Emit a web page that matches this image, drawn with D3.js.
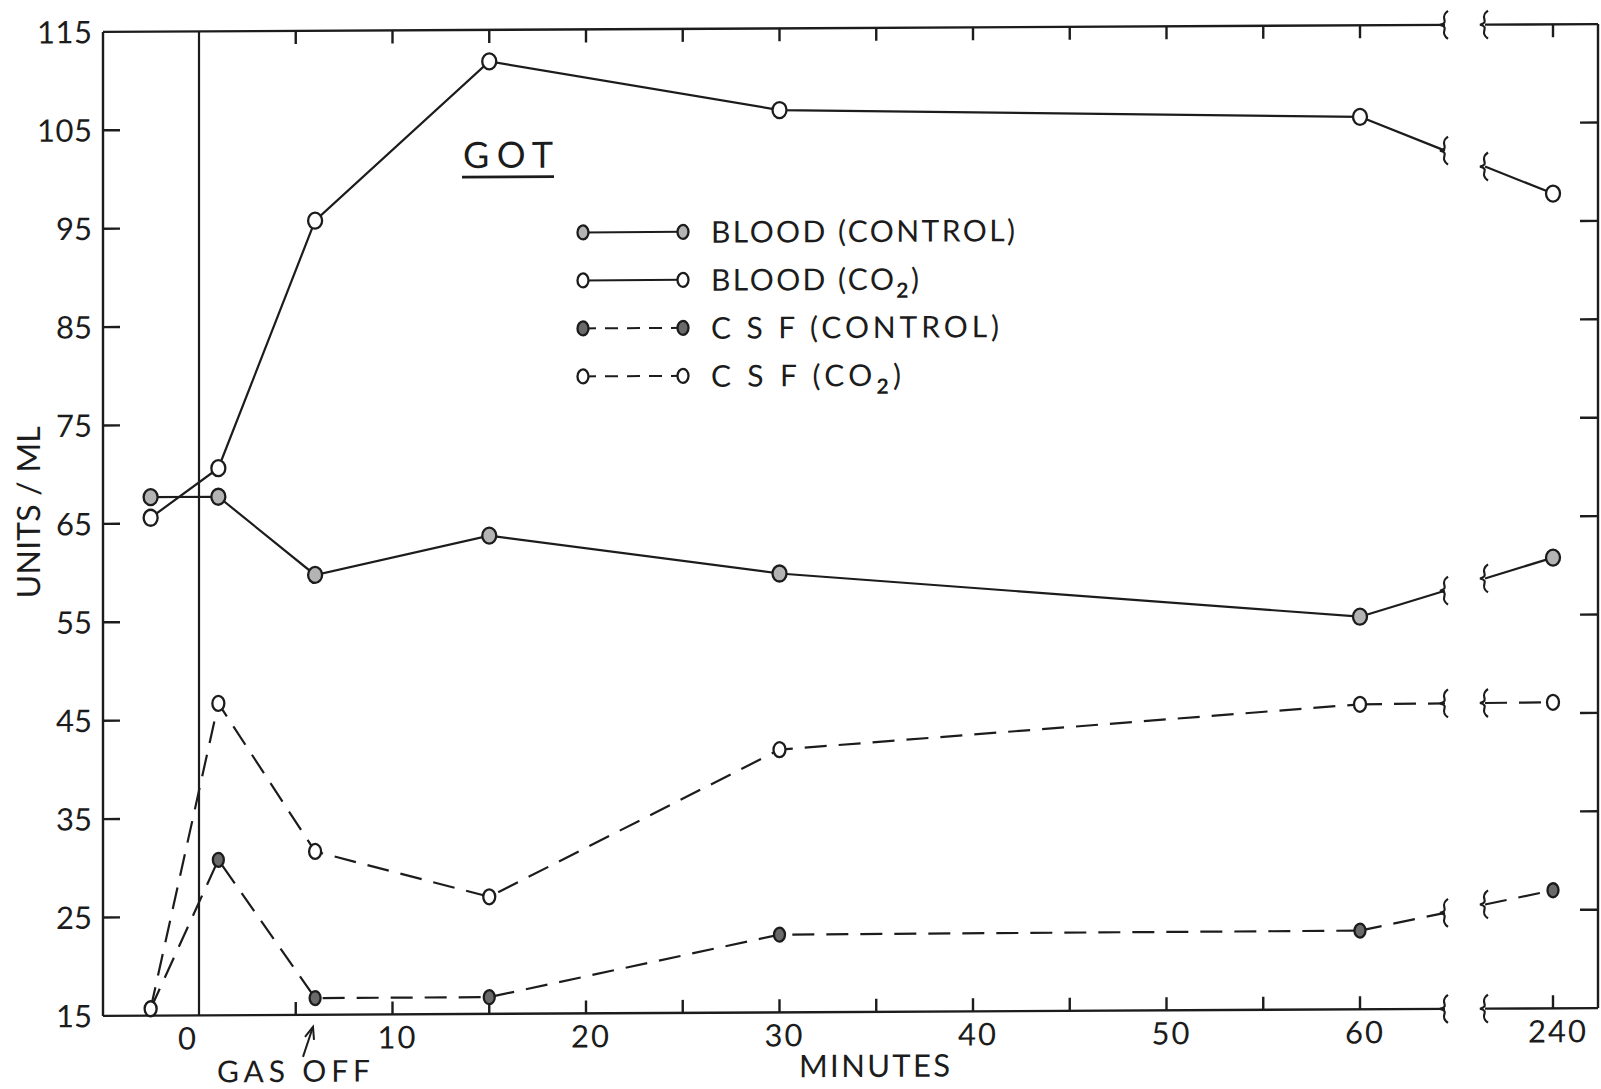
<!DOCTYPE html>
<html>
  <head>
    <meta charset="utf-8">
    <title>GOT - units/ml vs minutes</title>
    <script src="https://cdn.jsdelivr.net/npm/d3@7"></script>
    <style>
      body { margin: 0; background: #fff; }
      text { font-family: Lato, "Open Sans", "DejaVu Sans", sans-serif; font-weight: 400; fill: #1c1c1c; }
    </style>
  </head>
  <body>
    <div id="chart"></div>

    <script>
      // data (minutes after start; 240 sits past the axis break)
      const times = [-2.5, 1, 6, 15, 30, 60, 240];
      const bloodControl = [67.7, 67.7, 59.7, 63.6, 59.6, 54.9, 60.8];
      const bloodCO2 = [65.6, 70.6, 95.7, 111.8, 106.7, 105.7, 97.8];
      const csfControl = [15.7, 30.8, 16.7, 16.7, 22.9, 23.0, 27.0];
      const csfCO2 = [15.7, 46.7, 31.6, 26.9, 41.7, 46.0, 46.1];

      const yTickLabels = [115, 105, 95, 85, 75, 65, 55, 45, 35, 25, 15];
      const xTickLabels = [0, 10, 20, 30, 40, 50, 60, 240];
      const legendLabels = ['BLOOD (CONTROL)', 'BLOOD (CO|2|)', 'C S F (CONTROL)', 'C S F (CO|2|)'];

      const W = 1601, H = 1089;
      const ink = '#1c1c1c';
      const pLeft = 103, pRight = 1598, pTop = 28, pBottom = 1012;
      const breakL = 1445, breakR = 1485;

      const svg = d3.select('#chart').append('svg')
        .attr('width', W).attr('height', H)
        .style('background', '#fff');

      // the scan runs slightly uphill to the right
      const g = svg.append('g').attr('transform', 'translate(0,4.45) skewY(-0.3)');

      const x = d3.scaleLinear().domain([0, 60, 240]).range([199, 1360, 1553]);
      const y = d3.scaleLinear().domain([15, 115]).range([pBottom, pTop]);

      // squiggly break mark
      function squiggle(cx, cy, h) {
        const s = h / 2;
        return `M${cx + 3},${cy - s} C${cx - 7},${cy - s / 2} ${cx + 6},${cy - s / 5} ${cx - 5},${cy}
                C${cx + 6},${cy + s / 5} ${cx - 7},${cy + s / 2} ${cx + 3},${cy + s}`;
      }

      // spread letters so the text fills a given width
      function fit(sel, w) {
        const node = sel.node();
        const n = node.getNumberOfChars();
        const cur = node.getComputedTextLength();
        if (n > 1) sel.attr('letter-spacing', (w - cur) / (n - 1));
      }

      // frame
      const axis = g.append('g').attr('stroke', ink).attr('stroke-width', 2.4).attr('fill', 'none');
      axis.append('line').attr('x1', pLeft).attr('x2', pLeft).attr('y1', pTop).attr('y2', pBottom);
      axis.append('line').attr('x1', pRight).attr('x2', pRight).attr('y1', pTop).attr('y2', pBottom);
      [pTop, pBottom].forEach(yy => {
        axis.append('line').attr('x1', pLeft).attr('x2', breakL).attr('y1', yy).attr('y2', yy);
        axis.append('line').attr('x1', breakR).attr('x2', pRight).attr('y1', yy).attr('y2', yy);
        axis.append('path').attr('d', squiggle(breakL, yy, 28)).attr('stroke-width', 2.2);
        axis.append('path').attr('d', squiggle(breakR, yy, 28)).attr('stroke-width', 2.2);
      });
      axis.append('line').attr('x1', x(0)).attr('x2', x(0)).attr('y1', pTop).attr('y2', pBottom).attr('stroke-width', 2.2);

      // ticks
      const xTicks = d3.range(5, 61, 5).concat([240]);
      axis.selectAll('.tt').data(xTicks).enter().append('line')
        .attr('x1', d => x(d)).attr('x2', d => x(d)).attr('y1', pTop).attr('y2', pTop + 13);
      axis.selectAll('.tb').data(xTicks).enter().append('line')
        .attr('x1', d => x(d)).attr('x2', d => x(d)).attr('y1', pBottom).attr('y2', pBottom - 13);
      const yTicks = yTickLabels.filter(v => v > 15 && v < 115);
      axis.selectAll('.tl').data(yTicks).enter().append('line')
        .attr('x1', pLeft).attr('x2', pLeft + 17).attr('y1', d => y(d)).attr('y2', d => y(d));
      axis.selectAll('.tr').data(yTicks).enter().append('line')
        .attr('x1', pRight).attr('x2', pRight - 18).attr('y1', d => y(d)).attr('y2', d => y(d));

      // tick labels
      yTickLabels.forEach(v => {
        const w = String(v).length * 19 - 2;
        const t = g.append('text').attr('x', 92 - w).attr('y', y(v)).attr('dy', '0.36em')
          .attr('font-size', 31).text(v);
        fit(t, w);
      });
      xTickLabels.forEach(v => {
        const w = String(v).length * 20 - 2;
        const cx = v === 0 ? x(0) - 12 : x(v) + 4;
        const t = g.append('text').attr('x', cx - w / 2).attr('y', 1046)
          .attr('font-size', 31).text(v);
        fit(t, w);
      });

      // axis titles
      const yt = g.append('text').attr('transform', 'translate(40,508) rotate(-90)')
        .attr('x', -86).attr('y', 0).attr('font-size', 32).text('UNITS / ML');
      fit(yt, 172);
      const xt = g.append('text').attr('x', 799).attr('y', 1077).attr('font-size', 31).text('MINUTES');
      fit(xt, 151);
      const gas = g.append('text').attr('x', 217).attr('y', 1079).attr('font-size', 30).text('GAS OFF');
      fit(gas, 153);
      // arrow to gas off
      g.append('line').attr('x1', 303).attr('y1', 1054).attr('x2', 313).attr('y2', 1024)
        .attr('stroke', ink).attr('stroke-width', 2);
      g.append('path').attr('d', 'M305,1034 L313,1024 L314,1037').attr('fill', 'none')
        .attr('stroke', ink).attr('stroke-width', 2);

      // title
      const got = g.append('text').attr('x', 463).attr('y', 166).attr('font-size', 36).text('GOT');
      fit(got, 90);
      g.append('line').attr('x1', 462).attr('x2', 554).attr('y1', 175).attr('y2', 175)
        .attr('stroke', ink).attr('stroke-width', 2.8);

      // series
      const series = [
        { vals: bloodControl, dash: null, rx: 7, ry: 8, fill: '#b4b4b4' },
        { vals: bloodCO2, dash: null, rx: 7, ry: 8, fill: '#fff' },
        { vals: csfControl, dash: '22,12', rx: 5.5, ry: 7, fill: '#6a6a6a' },
        { vals: csfCO2, dash: '22,12', rx: 6, ry: 7.5, fill: '#fff' }
      ];

      const line = d3.line().x(d => x(d.t)).y(d => y(d.v));

      series.forEach(s => {
        const pts = times.map((t, i) => ({ t: t, v: s.vals[i] }));
        const main = pts.filter(p => p.t <= 60);
        const last = pts[pts.length - 1], p60 = main[main.length - 1];
        const lg = g.append('g').attr('stroke', ink).attr('stroke-width', 2.2).attr('fill', 'none');
        if (s.dash) lg.attr('stroke-dasharray', s.dash);

        lg.append('path').datum(main).attr('d', line);

        // broken segment from 60 to 240
        const x0 = x(p60.t), y0 = y(p60.v), x1 = x(last.t), y1 = y(last.v);
        const yAt = xx => y0 + (y1 - y0) * (xx - x0) / (x1 - x0);
        lg.append('line').attr('x1', x0).attr('y1', y0).attr('x2', breakL).attr('y2', yAt(breakL));
        lg.append('line').attr('x1', breakR).attr('y1', yAt(breakR)).attr('x2', x1).attr('y2', y1);
        [breakL, breakR].forEach(bx => {
          g.append('path').attr('d', squiggle(bx, yAt(bx), 28))
            .attr('fill', 'none').attr('stroke', ink).attr('stroke-width', 2.2);
        });

        g.selectAll(null).data(pts).enter().append('ellipse')
          .attr('cx', d => x(d.t)).attr('cy', d => y(d.v))
          .attr('rx', s.rx).attr('ry', s.ry)
          .attr('fill', s.fill).attr('stroke', ink).attr('stroke-width', 2.3);
      });

      // legend
      const legY = [231, 279, 327, 375];
      legendLabels.forEach((lab, i) => {
        const s = series[i];
        const yy = legY[i];
        g.append('line').attr('x1', 583).attr('x2', 683).attr('y1', yy).attr('y2', yy)
          .attr('stroke', ink).attr('stroke-width', 2)
          .attr('stroke-dasharray', s.dash ? '13,9' : null);
        [583, 683].forEach(cx => {
          g.append('ellipse').attr('cx', cx).attr('cy', yy).attr('rx', 5.5).attr('ry', 7)
            .attr('fill', s.fill).attr('stroke', ink).attr('stroke-width', 2.3);
        });
        const parts = lab.split('|');
        const t = g.append('text').attr('x', 711).attr('y', yy + 11).attr('font-size', 30);
        t.append('tspan').text(parts[0]);
        if (parts.length > 1) {
          t.append('tspan').attr('dy', 8).attr('font-size', 21).attr('font-weight', 700).text(parts[1]);
          t.append('tspan').attr('dy', -8).text(parts[2]);
        }
        fit(t, [304, 208, 288, 190][i]);
      });
    </script>
  </body>
</html>
